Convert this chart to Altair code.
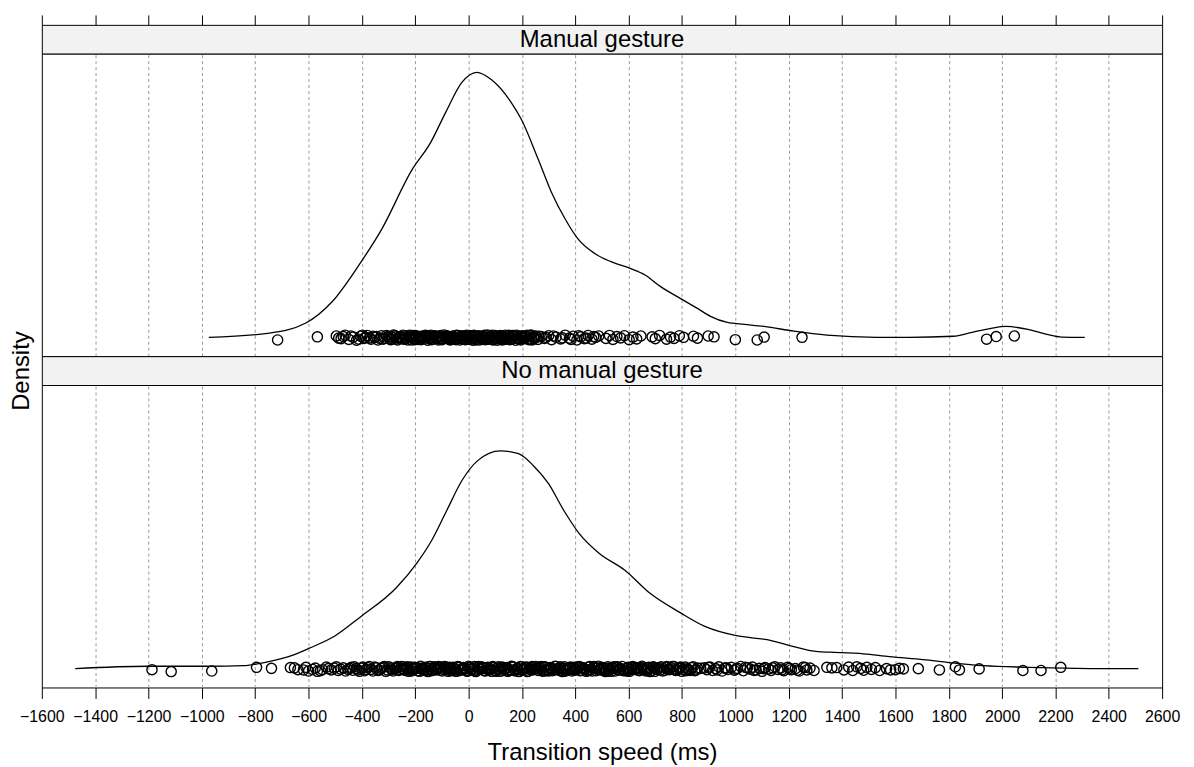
import altair as alt
import pandas as pd

FONT = "Liberation Sans"

# ---------------- data ----------------
panel_labels = ["Manual gesture", "No manual gesture"]
tick_values = [-1600, -1400, -1200, -1000, -800, -600, -400, -200, 0, 200, 400, 600,
               800, 1000, 1200, 1400, 1600, 1800, 2000, 2200, 2400, 2600]
grid_values = [-1400, -1200, -1000, -800, -600, -400, -200, 0, 200, 400, 600,
               800, 1000, 1200, 1400, 1600, 1800, 2000, 2200, 2400]

# density curves (relative density)
manual_curve_x = [-974, -754, -612, -511, -410, -325, -213, -142, -86, -26, 30, 86, 160, 198,
                  261, 310, 362, 410, 474, 534, 608, 660, 720, 795, 858, 907, 970, 1034, 1108,
                  1220, 1343, 1530, 1650, 1817, 1888, 1959, 2015, 2097, 2168, 2224, 2310]
manual_curve_y = [0.001, 0.016, 0.054, 0.136, 0.275, 0.410, 0.631, 0.736, 0.849, 0.961, 1.000,
                  0.972, 0.886, 0.822, 0.672, 0.549, 0.447, 0.372, 0.316, 0.286, 0.260, 0.237,
                  0.192, 0.147, 0.110, 0.080, 0.057, 0.050, 0.042, 0.024, 0.009, 0.001, 0.001,
                  0.005, 0.020, 0.035, 0.042, 0.031, 0.012, 0.002, 0.001]

nomanual_curve_x = [-1475, -1203, -975, -843, -766, -653, -597, -500, -407, -272, -194, -138,
                    -82, -25, 34, 119, 187, 243, 299, 357, 414, 489, 586, 679, 795, 888, 1004,
                    1119, 1194, 1310, 1354, 1481, 1578, 1705, 1802, 1929, 2101, 2228, 2414, 2511]
nomanual_curve_y = [0.001, 0.010, 0.010, 0.012, 0.024, 0.054, 0.078, 0.125, 0.195, 0.305, 0.399,
                    0.485, 0.597, 0.710, 0.785, 0.822, 0.811, 0.766, 0.699, 0.597, 0.511, 0.436,
                    0.372, 0.286, 0.211, 0.159, 0.125, 0.110, 0.091, 0.065, 0.063, 0.057, 0.046,
                    0.035, 0.024, 0.012, 0.006, 0.003, 0.001, 0.001]

# observations (ms) with their vertical jitter (relative density units)
manual_points = [
    (-716, -0.009), (-567, 0.003),
    (-496, 0.006), (-478, -0.004), (-463, 0.009), (-449, -0.007), (-433, 0.002), (-420, -0.010),
    (-405, 0.005), (-392, -0.003), (-380, 0.008), (-366, -0.006), (-352, 0.001), (-340, -0.009),
    (-327, 0.007), (-315, -0.002), (-302, 0.004), (-292, -0.008), (-281, 0.010), (-270, -0.005),
    (-259, 0.003), (-249, -0.001), (-238, 0.006), (-228, -0.009), (-218, 0.002), (-208, -0.004),
    (-199, 0.008), (-190, -0.007), (-180, 0.005), (-171, -0.002), (-162, 0.009), (-153, -0.010),
    (-144, 0.001), (-135, -0.006), (-126, 0.007), (-118, -0.003), (-109, 0.004), (-100, -0.008),
    (-92, 0.010), (-83, -0.001), (-75, 0.003), (-66, -0.007), (-58, 0.006), (-49, -0.004),
    (-41, 0.008), (-33, -0.009), (-24, 0.002), (-16, -0.005), (-8, 0.009), (0, -0.002),
    (8, 0.005), (16, -0.010), (24, 0.001), (31, -0.006), (39, 0.007), (47, -0.003), (55, 0.004),
    (63, -0.008), (71, 0.010), (79, -0.001), (87, 0.006), (95, -0.007), (103, 0.002),
    (111, -0.004), (119, 0.008), (127, -0.009), (135, 0.003), (143, -0.005), (151, 0.009),
    (159, -0.002), (167, 0.005), (176, -0.010), (184, 0.001), (192, -0.006), (200, 0.007),
    (209, -0.003), (217, 0.004), (226, -0.008), (234, 0.010), (243, -0.001), (251, 0.006),
    (260, -0.007), (272, 0.004), (284, -0.003), (300, 0.007), (311, -0.008), (328, 0.002),
    (345, -0.005), (362, 0.009), (378, -0.002), (392, 0.005), (406, -0.009), (420, 0.003),
    (434, -0.004), (448, 0.008), (462, -0.006), (476, 0.001), (488, 0.006), (515, -0.003),
    (528, 0.008), (541, -0.007), (556, 0.004), (570, -0.001), (584, 0.007), (602, -0.008),
    (616, 0.002), (630, -0.005), (646, 0.006), (688, 0.003), (700, -0.004), (716, 0.008),
    (742, -0.006), (757, 0.002), (770, -0.003), (790, 0.007), (806, 0.001), (843, 0.005),
    (858, -0.002), (898, 0.006), (920, 0.003), (1000, -0.008), (1082, -0.009), (1108, 0.002),
    (1250, 0.001), (1942, -0.006), (1978, 0.004), (2046, 0.006),
    (-286, 0.001), (-244, -0.006), (-212, 0.008), (-176, -0.003), (-148, 0.006), (-113, -0.009),
    (-88, 0.004), (-53, -0.005), (-28, 0.007), (4, -0.007), (20, 0.009), (43, -0.001),
    (67, 0.006), (91, -0.009), (115, 0.003), (139, -0.006), (163, 0.008), (188, -0.002),
    (213, 0.005), (238, -0.009), (256, 0.002),
    (-296, -0.005), (-276, 0.007), (-266, -0.009), (-254, 0.004), (-232, -0.002), (-222, 0.009),
    (-202, -0.008), (-194, 0.003), (-185, -0.005), (-166, 0.002), (-157, 0.007), (-139, -0.008),
    (-130, 0.005), (-122, -0.002), (-104, 0.008), (-96, -0.005), (-79, 0.001), (-70, -0.009),
    (-62, 0.004), (-45, 0.009), (-37, -0.003), (-20, 0.006), (-12, -0.008), (-4, 0.003),
    (12, 0.007), (28, -0.009), (35, 0.004), (51, -0.006), (59, 0.009), (75, -0.004),
    (83, 0.002), (99, 0.008), (107, -0.010), (123, 0.001), (131, -0.003), (147, 0.006),
    (155, -0.008), (171, 0.003), (180, 0.009), (196, -0.009), (204, 0.002), (221, -0.005),
    (230, 0.008), (247, -0.003), (264, 0.005), (-487, -0.002), (-470, 0.004), (-441, 0.006),
    (-412, -0.006), (-386, 0.001), (-358, 0.005), (-333, -0.003), (-308, 0.008), (290, 0.001),
    (318, 0.006), (352, -0.001), (384, -0.007), (413, 0.007), (441, -0.002), (469, 0.004),
    (-299, 0.002), (-289, -0.007), (-279, 0.006), (-263, 0.000), (-246, 0.009), (-236, -0.005),
    (-225, 0.003), (-214, -0.009), (-205, 0.005), (-187, 0.001), (-178, -0.008), (-168, 0.006),
    (-150, -0.004), (-141, 0.009), (-132, -0.001), (-115, 0.005), (-106, -0.006), (-97, 0.002),
    (-81, 0.007), (-72, -0.004), (-55, 0.000), (-47, -0.008), (-30, 0.004), (-22, -0.006),
    (-6, 0.001), (2, 0.008), (18, -0.004), (26, 0.006), (41, -0.009), (49, 0.003), (65, 0.000),
    (73, -0.006), (89, 0.009), (97, -0.002), (113, 0.006), (121, -0.007), (137, 0.009),
    (145, 0.000), (161, -0.006), (169, 0.008), (186, -0.005), (194, 0.004), (211, -0.001),
    (219, 0.009), (236, -0.006), (245, 0.003), (-371, -0.001), (-345, 0.004), (-321, -0.006),
    (-398, 0.009),
]

nomanual_points = [
    (-1187, -0.003), (-1115, -0.010), (-963, -0.008), (-795, 0.006), (-739, 0.002),
    (-668, 0.005), (-653, 0.004), (-619, -0.004), (-600, -0.008), (-585, -0.002), (-567, -0.009),
    (-548, -0.003), (-526, 0.001), (-504, 0.003), (-489, -0.006), (-470, 0.004), (-452, -0.002),
    (-440, 0.006), (-428, 0.008), (-415, -0.004), (-402, 0.003), (-390, -0.007), (-378, 0.005),
    (-366, -0.002), (-352, 0.007), (-340, -0.006), (-328, 0.002), (-316, 0.009), (-305, -0.004),
    (-293, 0.003), (-283, -0.008),
    (-272, 0.005), (-262, -0.006), (-252, 0.009), (-243, -0.002), (-234, 0.004), (-225, -0.009),
    (-216, 0.007), (-207, -0.003), (-198, 0.001), (-189, -0.007), (-180, 0.010), (-171, -0.004),
    (-162, 0.006), (-153, -0.010), (-144, 0.002), (-135, -0.005), (-126, 0.008), (-117, -0.001),
    (-108, 0.004), (-99, -0.008), (-90, 0.009), (-81, -0.003), (-72, 0.006), (-63, -0.006),
    (-54, 0.001), (-45, -0.009), (-36, 0.007), (-27, -0.002), (-18, 0.005), (-9, -0.007),
    (0, 0.010), (9, -0.004), (18, 0.003), (27, -0.010), (36, 0.008), (45, -0.001), (54, 0.004),
    (63, -0.008), (72, 0.006), (81, -0.003), (90, 0.009), (99, -0.006), (108, 0.002),
    (117, -0.009), (126, 0.007), (135, -0.002), (144, 0.005), (153, -0.007), (162, 0.010),
    (171, -0.004), (180, 0.001), (189, -0.010), (198, 0.008), (207, -0.001), (216, 0.004),
    (225, -0.008), (234, 0.006), (243, -0.003), (252, 0.009), (261, -0.006), (270, 0.002),
    (279, -0.009), (288, 0.007), (297, -0.002), (306, 0.005), (315, -0.007), (324, 0.010),
    (333, -0.004), (342, 0.003), (351, -0.010), (360, 0.008), (369, -0.001), (378, 0.004),
    (387, -0.008), (396, 0.006), (405, -0.003), (414, 0.009), (423, -0.006), (432, 0.002),
    (441, -0.009), (450, 0.007), (459, -0.002), (468, 0.005), (477, -0.007), (486, 0.010),
    (495, -0.004), (504, 0.001), (513, -0.010), (522, 0.008), (531, -0.001), (540, 0.004),
    (549, -0.008), (558, 0.006), (567, -0.003), (576, 0.009), (585, -0.006), (594, 0.002),
    (603, -0.009), (612, 0.007), (621, -0.002), (630, 0.005), (640, -0.007), (650, 0.010),
    (660, -0.004), (670, 0.003), (680, -0.010), (692, 0.008), (704, -0.001), (716, 0.004),
    (728, -0.008), (740, 0.006), (752, -0.003), (764, 0.009), (776, -0.006), (788, 0.002),
    (800, -0.009), (812, 0.007), (824, -0.002), (836, 0.005), (848, -0.007), (858, 0.003),
    (884, 0.004), (893, -0.003), (905, 0.007), (915, -0.006), (926, 0.001), (938, 0.008),
    (950, -0.008), (960, 0.003), (972, -0.002), (985, 0.006), (996, -0.005), (1008, 0.002),
    (1020, 0.009), (1030, -0.007), (1045, 0.004), (1056, -0.001), (1064, 0.007), (1078, -0.004),
    (1090, 0.002), (1100, -0.009), (1112, 0.005), (1125, 0.000), (1134, -0.006), (1148, 0.008),
    (1160, -0.002), (1170, 0.004), (1182, -0.007), (1196, 0.006), (1210, -0.003), (1225, 0.001),
    (1240, -0.008), (1255, 0.007), (1268, -0.004), (1280, 0.003), (1295, -0.006),
    (1343, 0.006), (1362, 0.004), (1380, 0.005), (1407, -0.004), (1425, 0.007), (1440, -0.006),
    (1455, 0.008), (1470, 0.002), (1481, -0.005), (1493, 0.006), (1510, -0.002), (1525, 0.005),
    (1541, -0.006), (1567, 0.001), (1582, -0.004), (1600, -0.003), (1615, 0.002), (1630, 0.000),
    (1686, 0.001), (1765, -0.004), (1825, 0.008), (1840, -0.004), (1914, 0.000),
    (2078, -0.006), (2146, -0.006), (2220, 0.006),
    (-247, 0.001), (-203, 0.006), (-158, -0.004), (-113, 0.009), (-68, -0.007), (-22, 0.003),
    (13, -0.001), (49, 0.008), (86, -0.009), (121, 0.005), (158, -0.005), (194, 0.009),
    (229, -0.002), (265, 0.006), (301, -0.008), (337, 0.001), (373, -0.004), (409, 0.007),
    (445, -0.006), (481, 0.003), (517, -0.002), (553, 0.008), (589, -0.007), (625, 0.001),
    (664, -0.008), (698, 0.005), (734, -0.005), (770, 0.009), (806, -0.003),
    (-640, -0.003), (-610, 0.006), (-575, 0.003), (-556, -0.007), (-533, 0.007), (-515, -0.004),
    (-496, 0.008), (-480, -0.001), (-461, -0.008), (-446, 0.002), (-434, -0.005), (-421, 0.001),
    (-409, -0.009), (-396, 0.007), (-384, -0.002), (-372, 0.009), (-359, -0.008), (-346, 0.004),
    (-334, -0.004), (-322, 0.006), (-310, -0.009), (-299, 0.008), (-288, -0.003), (-277, 0.001),
    (-267, 0.009), (-257, -0.002), (-238, -0.006), (-229, 0.008), (-220, -0.004), (-211, 0.002),
    (-193, 0.005), (-184, -0.009), (-175, 0.003), (-166, -0.001), (-148, 0.009), (-139, -0.007),
    (-130, 0.002), (-121, -0.004), (-104, 0.007), (-95, -0.002), (-86, 0.004), (-77, -0.009),
    (-59, 0.006), (-50, -0.003), (-41, 0.009), (-32, -0.006), (-14, 0.002), (-5, -0.009),
    (4, 0.006), (22, 0.009), (31, -0.005), (40, 0.001), (58, -0.007), (67, 0.003), (76, -0.001),
    (95, 0.005), (103, -0.009), (112, 0.008), (130, -0.006), (139, 0.004), (148, -0.003),
    (167, 0.007), (175, -0.008), (184, 0.002), (203, -0.004), (211, 0.006), (220, -0.010),
    (239, 0.009), (247, -0.001), (256, 0.003), (274, -0.005), (283, 0.008), (292, -0.007),
    (310, 0.001), (319, -0.003), (328, 0.009), (346, -0.006), (355, 0.002), (364, -0.008),
    (382, 0.007), (391, -0.004), (400, 0.001), (418, -0.007), (427, 0.005), (436, -0.002),
    (454, 0.009), (463, -0.008), (472, 0.003), (490, -0.001), (499, 0.006), (508, -0.006),
    (526, 0.002), (535, -0.009), (544, 0.008), (562, -0.004), (571, 0.001), (580, -0.007),
    (598, 0.006), (607, -0.002), (616, 0.009), (635, -0.005), (645, 0.003), (655, -0.001),
    (675, 0.006), (686, -0.006), (698, -0.009), (710, 0.001), (722, 0.008), (746, -0.002),
    (758, 0.005), (782, -0.004), (794, 0.007), (818, 0.000), (830, -0.006), (842, 0.008),
    (853, -0.004), (870, 0.002), (899, 0.006), (932, -0.004), (966, 0.004), (1002, -0.001),
    (1038, 0.006), (1070, -0.006), (1106, 0.001), (1140, 0.004), (1176, -0.003), (1203, 0.002),
    (1233, -0.005), (1262, 0.005),
    (-245, 0.008), (-231, -0.001), (-214, -0.008), (-196, 0.004), (-178, 0.000), (-160, -0.006),
    (-142, 0.009), (-124, 0.001), (-106, -0.005), (-88, 0.008), (-70, 0.002), (-52, -0.008),
    (-34, 0.006), (-16, -0.002), (2, 0.004), (20, -0.007), (38, 0.009), (56, 0.002),
    (74, -0.005), (92, 0.007), (110, -0.003), (128, 0.004), (146, -0.009), (164, 0.008),
    (182, 0.000), (200, -0.006), (218, 0.007), (236, -0.004), (254, 0.001), (272, 0.009),
    (290, -0.005), (308, 0.003), (326, -0.001), (344, 0.008), (362, -0.007), (380, 0.002),
    (398, -0.004), (416, 0.008), (434, 0.000), (452, -0.006), (470, 0.009), (488, -0.003),
    (506, 0.004), (524, -0.008), (542, 0.001), (560, 0.007), (578, -0.002), (596, -0.008),
    (614, 0.004), (633, 0.000), (652, 0.007), (672, -0.005), (695, 0.003), (719, -0.004),
    (743, 0.009), (767, -0.001), (791, 0.004), (815, -0.007),
]

# ---------------- frames ----------------
curve_manual = pd.DataFrame({"x": manual_curve_x, "density": manual_curve_y})
curve_nomanual = pd.DataFrame({"x": nomanual_curve_x, "density": nomanual_curve_y})
pts_manual = pd.DataFrame(manual_points, columns=["x", "density"])
pts_nomanual = pd.DataFrame(nomanual_points, columns=["x", "density"])

W = 1126
PH = 304
SH = 29
XS = alt.Scale(domain=[-1600, 2600], nice=False, zero=False)
YS = alt.Scale(domain=[-0.07, 1.07], nice=False, zero=False)


def y_axis(visible):
    if not visible:
        return None
    return alt.Axis(title="Density", labels=False, ticks=False, domain=False, grid=False,
                    titleFont=FONT, titleFontSize=24, titleFontWeight="normal",
                    titleColor="black", titlePadding=8)


def strip(label, top_axis, show_ylab):
    xaxis = None
    if top_axis:
        xaxis = alt.Axis(orient="top", values=tick_values, labels=False, ticks=True,
                         tickSize=10, tickColor="black", tickWidth=1, domain=False,
                         grid=False, title=None)
    return alt.Chart(pd.DataFrame({"label": [label]})).mark_text(
        font=FONT, fontSize=24, baseline="alphabetic", align="center", color="black"
    ).encode(
        x=alt.X(datum=500, scale=XS, axis=xaxis),
        y=alt.Y(datum=7, scale=alt.Scale(domain=[0, SH], nice=False, zero=False),
                axis=y_axis(show_ylab)),
        text="label:N",
    ).properties(width=W, height=SH,
                 view=alt.ViewBackground(fill="#f2f2f2", stroke="black", strokeWidth=1))


def panel(curve_df, pts_df, bottom_axis):
    line = alt.Chart(curve_df).mark_line(
        color="black", strokeWidth=1.3, interpolate="monotone"
    ).encode(
        x=alt.X("x:Q", scale=XS,
                axis=alt.Axis(orient="top", values=grid_values, grid=True, gridDash=[3, 3],
                              gridColor="#9a9a9a", gridWidth=1, labels=False, ticks=False,
                              domain=False, title=None)),
        y=alt.Y("density:Q", scale=YS, axis=None),
    )
    baxis = None
    if bottom_axis:
        baxis = alt.Axis(orient="bottom", values=tick_values, tickSize=11, tickColor="black",
                         tickWidth=1, labelFont=FONT, labelFontSize=16, labelColor="black",
                         labelPadding=10, labelFlush=False, labelOverlap=False, format="d",
                         domain=False, grid=False, title="Transition speed (ms)",
                         titleFont=FONT, titleFontSize=24, titleFontWeight="normal",
                         titleColor="black", titlePadding=16)
    pts = alt.Chart(pts_df).mark_point(
        shape="circle", filled=False, color="black", size=105, strokeWidth=1.4, opacity=1
    ).encode(
        x=alt.X("x:Q", scale=XS, axis=baxis),
        y=alt.Y("density:Q", scale=YS, axis=None),
    )
    return alt.layer(line, pts).resolve_axis(x="independent").properties(
        width=W, height=PH,
        view=alt.ViewBackground(fill="white", stroke="black", strokeWidth=1))


chart = alt.vconcat(
    strip(panel_labels[0], True, False),
    panel(curve_manual, pts_manual, False),
    strip(panel_labels[1], False, True),
    panel(curve_nomanual, pts_nomanual, True),
    spacing=0,
    bounds="flush",
).properties(
    padding={"left": 1, "top": 4, "right": 5, "bottom": 0}
).configure(font=FONT).configure_view(stroke="black")

chart.save("out.html", embed_options={"renderer": "svg", "actions": False})
